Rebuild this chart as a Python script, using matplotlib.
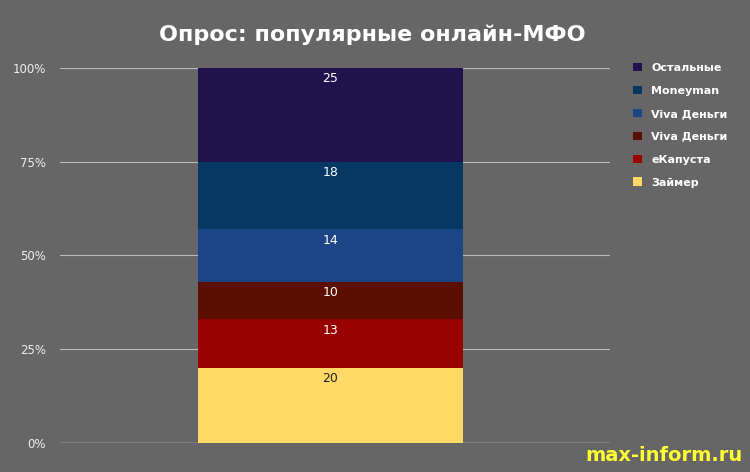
import matplotlib
matplotlib.use("Agg")
import matplotlib.pyplot as plt

labels = ["Займер", "еКапуста", "Viva Деньги", "Viva Деньги", "Moneyman", "Остальные"]
values = [20, 13, 10, 14, 18, 25]
colors = ["#ffd966", "#990000", "#5b0f00", "#1c4587", "#073763", "#20124d"]
yticks = [0, 25, 50, 75, 100]
ytick_labels = ["0%", "25%", "50%", "75%", "100%"]

bg = "#666666"
fig = plt.figure(figsize=(7.5, 4.72), dpi=100, facecolor=bg)
ax = fig.add_axes([0.08, 0.0614, 0.733, 0.7946], facecolor=bg)
total = sum(values)
bottom = 0
handles = []
for lab, v, c in zip(labels, values, colors):
    h = v / total * 100
    b = ax.bar(0, h, width=1, bottom=bottom, color=c, label=lab, zorder=3)
    handles.append(b)
    tc = "#222222" if c == "#ffd966" else "white"
    ax.text(0, bottom + h - 2.9, str(v), ha="center", va="center", color=tc, fontsize=9, zorder=4)
    bottom += h
ax.set_xlim(-1.021, 1.055)
ax.set_ylim(0, 100)
ax.set_yticks(yticks)
ax.set_yticklabels(ytick_labels, color="#eeeeee", fontsize=8.5)
ax.set_xticks([])
ax.grid(axis="y", color="#bbbbbb", linewidth=0.8, zorder=0)
ax.tick_params(axis="y", length=0, pad=10)
for s in ax.spines.values():
    s.set_visible(False)
ax.axhline(0, color="#cccccc", linewidth=1, zorder=2)

fig.text(0.496, 0.927, "Опрос: популярные онлайн-МФО", ha="center", va="center",
         color="white", fontsize=16, fontweight="bold")
leg = ax.legend(handles[::-1], labels[::-1], loc="upper left", bbox_to_anchor=(1.025, 1.04),
                frameon=False, labelcolor="white", handlelength=0.8, handleheight=0.8,
                labelspacing=1.15, prop={"weight": "bold", "size": 8})
fig.text(0.99, 0.034, "max-inform.ru", ha="right", va="center", color="#ffff33",
         fontsize=14, fontweight="bold")
fig.savefig("out.png", dpi=100, facecolor=bg)
